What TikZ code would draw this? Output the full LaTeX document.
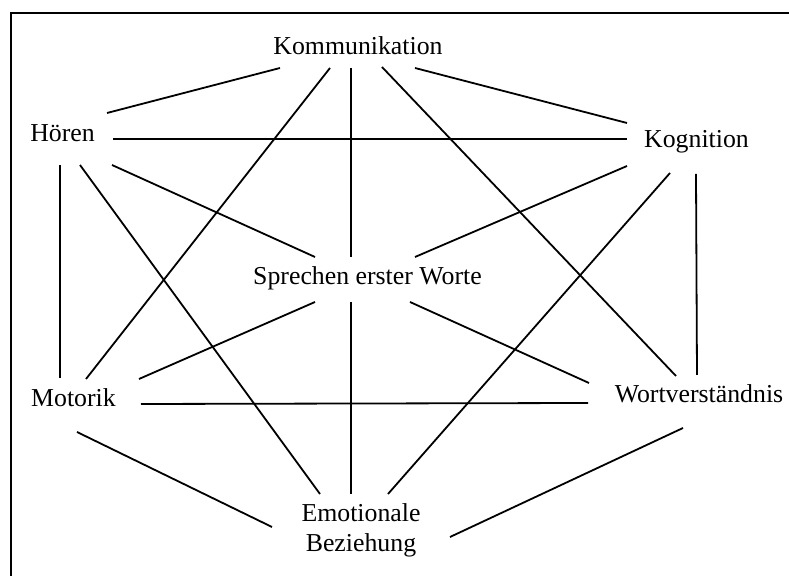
\documentclass[tikz,border=0pt]{standalone}
\usepackage{fontspec}
\setmainfont{Liberation Serif}
\begin{document}
\begin{tikzpicture}[x=0.5pt,y=-0.5pt,
  label/.style={inner sep=0pt,anchor=base,font=\fontsize{12.9}{15}\selectfont},
  link/.style={line width=0.9pt,black},
  frame/.style={line width=0.8pt,black}]
\useasboundingbox (0,0) rectangle (789,576);
% open frame: left and top edges
\draw[frame] (11,576) -- (11,13) -- (789,13);

% topics (two-line label is placed by its last baseline)
\node[label] (komm) at (358,55) {Kommunikation};
\node[label] (hoer) at (62.5,142) {Hören};
\node[label] (kogn) at (696.5,148) {Kognition};
\node[label] (spre) at (367.5,285) {Sprechen erster Worte};
\node[label] (moto) at (73.5,407) {Motorik};
\node[label] (wort) at (699,403) {Wortverständnis};
\node[label,align=center] (emot) at (361,552) {Emotionale\\Beziehung};

% connections (ends given relative to each label's baseline point)
\draw[link] ([shift={(-78,13)}]komm.base) -- ([shift={(44.5,-29)}]hoer.base);
\draw[link] ([shift={(57,13)}]komm.base) -- ([shift={(-69.5,-25)}]kogn.base);
\draw[link] ([shift={(-28,13)}]komm.base) -- ([shift={(12.5,-28)}]moto.base);
\draw[link] ([shift={(-7,13)}]komm.base) -- ([shift={(-16.5,-28)}]spre.base);
\draw[link] ([shift={(24,12)}]komm.base) -- ([shift={(-23,-27)}]wort.base);
\draw[link] ([shift={(50.5,-3)}]hoer.base) -- ([shift={(-69.5,-9)}]kogn.base);
\draw[link] ([shift={(-2.5,23)}]hoer.base) -- ([shift={(-13.5,-29)}]moto.base);
\draw[link] ([shift={(49.5,23)}]hoer.base) -- ([shift={(-52.5,-28)}]spre.base);
\draw[link] ([shift={(17.5,23)}]hoer.base) -- ([shift={(-41,-58)}]emot.base);
\draw[link] ([shift={(-69.5,18)}]kogn.base) -- ([shift={(47.5,-28)}]spre.base);
\draw[link] ([shift={(-26.5,25)}]kogn.base) -- ([shift={(27,-58)}]emot.base);
\draw[link] ([shift={(-0.5,26)}]kogn.base) -- ([shift={(-2,-28)}]wort.base);
\draw[link] ([shift={(-52.5,17)}]spre.base) -- ([shift={(65.5,-28)}]moto.base);
\draw[link] ([shift={(42.5,17)}]spre.base) -- ([shift={(-110,-20)}]wort.base);
\draw[link] ([shift={(-16.5,17)}]spre.base) -- ([shift={(-10,-58)}]emot.base);
\draw[link] ([shift={(67.5,-3)}]moto.base) -- ([shift={(-111,0)}]wort.base);
\draw[link] ([shift={(3.5,25)}]moto.base) -- ([shift={(-89,-25)}]emot.base);
\draw[link] ([shift={(-16,25)}]wort.base) -- ([shift={(89,-15)}]emot.base);
\end{tikzpicture}
\end{document}
